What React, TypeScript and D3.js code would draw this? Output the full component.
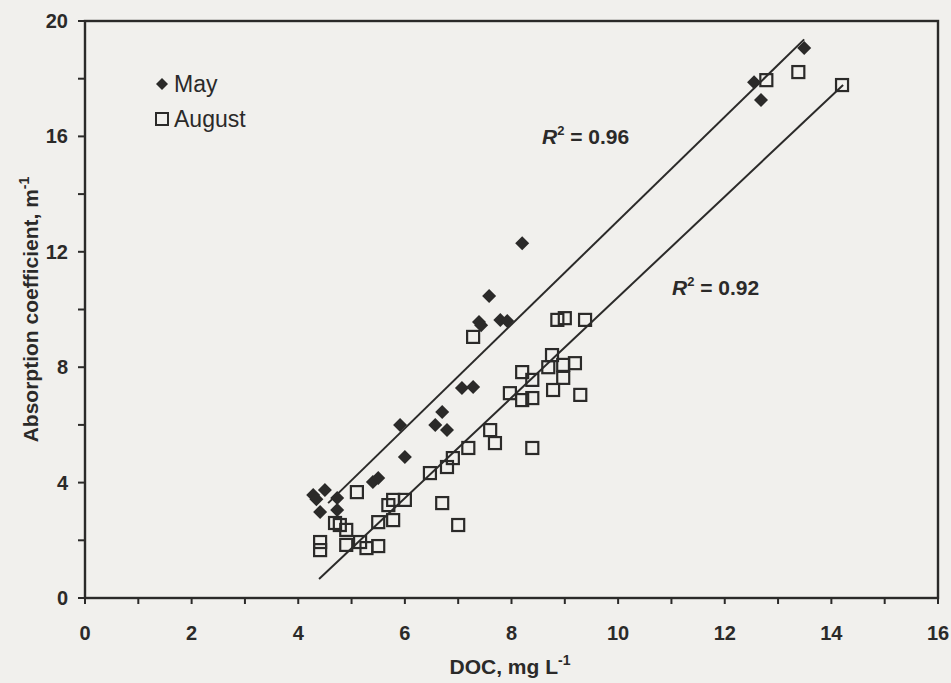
import React from "react";
import * as d3 from "d3";

// DOC (mg/L) vs CDOM absorption coefficient (1/m)
const mayDoc = [4.28, 4.34, 4.5, 4.73, 4.41, 4.73, 5.4, 5.5, 5.91, 6.0, 6.57, 6.7, 6.79, 7.07, 7.28, 7.39, 7.43, 7.58, 7.79, 7.92, 8.2, 12.55, 12.68, 13.49];
const mayAbs = [3.57, 3.42, 3.74, 3.47, 2.98, 3.05, 4.02, 4.16, 6.0, 4.89, 6.0, 6.45, 5.82, 7.28, 7.31, 9.57, 9.45, 10.47, 9.64, 9.6, 12.3, 17.88, 17.26, 19.06];

const augDoc = [4.41, 4.41, 4.69, 4.78, 4.9, 4.9, 5.1, 5.16, 5.28, 5.5, 5.5, 5.69, 5.78, 5.78, 6.0, 6.47, 6.7, 6.79, 6.9, 7.0, 7.19, 7.6, 7.69, 8.39, 7.97, 8.2, 8.39, 8.2, 8.39, 8.69, 8.76, 8.97, 9.19, 8.97, 8.78, 9.29, 7.28, 8.86, 9.0, 9.38, 12.78, 13.38, 14.2];
const augAbs = [1.94, 1.66, 2.6, 2.53, 2.36, 1.84, 3.67, 1.94, 1.73, 1.8, 2.63, 3.22, 3.4, 2.7, 3.4, 4.33, 3.29, 4.54, 4.85, 2.53, 5.2, 5.82, 5.37, 5.2, 7.1, 6.86, 6.93, 7.83, 7.56, 8.0, 8.42, 8.08, 8.14, 7.63, 7.21, 7.04, 9.05, 9.64, 9.7, 9.64, 17.95, 18.23, 17.78];

// regression lines: [slope, intercept, xStart, xEnd]
const mayFit = [1.8, -4.92, 4.56, 13.49];
const augFit = [1.742, -6.99, 4.39, 14.22];

const xTicks = [0, 2, 4, 6, 8, 10, 12, 14, 16];
const yTicks = [0, 4, 8, 12, 16, 20];
const seriesNames = ["May", "August"];

const W = 951;
const H = 683;
const ink = "#2b2a29";
const font = "Liberation Sans, Arial, sans-serif";

export default function App() {
  const x = d3.scaleLinear().domain([0, 16]).range([85, 938]);
  const y = d3.scaleLinear().domain([0, 20]).range([598, 21]);

  const minorX = d3.range(0, 17, 1);
  const minorY = d3.range(0, 21, 2);

  const fitLine = (f: number[]) =>
    d3.line<number>()
      .x((d) => x(d))
      .y((d) => y(f[0] * d + f[1]))([f[2], f[3]]) || "";

  const diamond = (cx: number, cy: number, r = 7) =>
    `M${cx},${cy - r}L${cx + r},${cy}L${cx},${cy + r}L${cx - r},${cy}Z`;

  return (
    <div style={{ position: "fixed", left: 0, top: 0 }}>
      <svg width={W} height={H} style={{ display: "block" }} fontFamily={font}>
        <rect width={W} height={H} fill="#f1f0ed" />

        {/* frame */}
        <rect x={x(0)} y={y(20)} width={x(16) - x(0)} height={y(0) - y(20)}
          fill="none" stroke={ink} strokeWidth={2.4} />

        {/* x ticks */}
        {minorX.map((t) => (
          <line key={"xt" + t} x1={x(t)} x2={x(t)} y1={y(0)} y2={y(0) + 6} stroke={ink} strokeWidth={2} />
        ))}
        {xTicks.map((t) => (
          <text key={"xl" + t} x={x(t)} y={640} textAnchor="middle" fontSize={20} fontWeight="bold" fill={ink}>
            {t}
          </text>
        ))}

        {/* y ticks */}
        {minorY.map((t) => (
          <line key={"yt" + t} x1={x(0) - 7} x2={x(0)} y1={y(t)} y2={y(t)} stroke={ink} strokeWidth={2} />
        ))}
        {yTicks.map((t) => (
          <text key={"yl" + t} x={68} y={y(t) + 7} textAnchor="end" fontSize={20} fontWeight="bold" fill={ink}>
            {t}
          </text>
        ))}

        {/* axis titles */}
        <text x={510} y={674} textAnchor="middle" fontSize={21} fontWeight="bold" fill={ink}>
          DOC,  mg L<tspan dy={-9} fontSize={14}>-1</tspan>
        </text>
        <text transform={`translate(38,${y(10)}) rotate(-90)`} textAnchor="middle" fontSize={21} fontWeight="bold" fill={ink}>
          Absorption coefficient, m<tspan dy={-9} fontSize={14}>-1</tspan>
        </text>

        {/* regression lines */}
        <path d={fitLine(mayFit)} fill="none" stroke={ink} strokeWidth={2} />
        <path d={fitLine(augFit)} fill="none" stroke={ink} strokeWidth={2} />

        {/* August squares */}
        {augDoc.map((d, i) => (
          <rect key={"a" + i} x={x(d) - 6} y={y(augAbs[i]) - 6} width={12} height={12}
            fill="none" stroke={ink} strokeWidth={2.2} />
        ))}

        {/* May diamonds */}
        {mayDoc.map((d, i) => (
          <path key={"m" + i} d={diamond(x(d), y(mayAbs[i]))} fill={ink} />
        ))}

        {/* R² labels */}
        <text x={542} y={144} fontSize={21} fontWeight="bold" fill={ink}>
          <tspan fontStyle="italic">R</tspan>
          <tspan dy={-9} fontSize={13}>2</tspan>
          <tspan dy={9}> = 0.96</tspan>
        </text>
        <text x={672} y={295} fontSize={21} fontWeight="bold" fill={ink}>
          <tspan fontStyle="italic">R</tspan>
          <tspan dy={-9} fontSize={13}>2</tspan>
          <tspan dy={9}> = 0.92</tspan>
        </text>

        {/* legend */}
        <path d={diamond(162, 84, 6)} fill={ink} />
        <text x={174} y={92} fontSize={23} fill={ink}>{seriesNames[0]}</text>
        <rect x={156} y={113} width={12} height={12} fill="none" stroke={ink} strokeWidth={2} />
        <text x={174} y={127} fontSize={23} fill={ink}>{seriesNames[1]}</text>
      </svg>
    </div>
  );
}
